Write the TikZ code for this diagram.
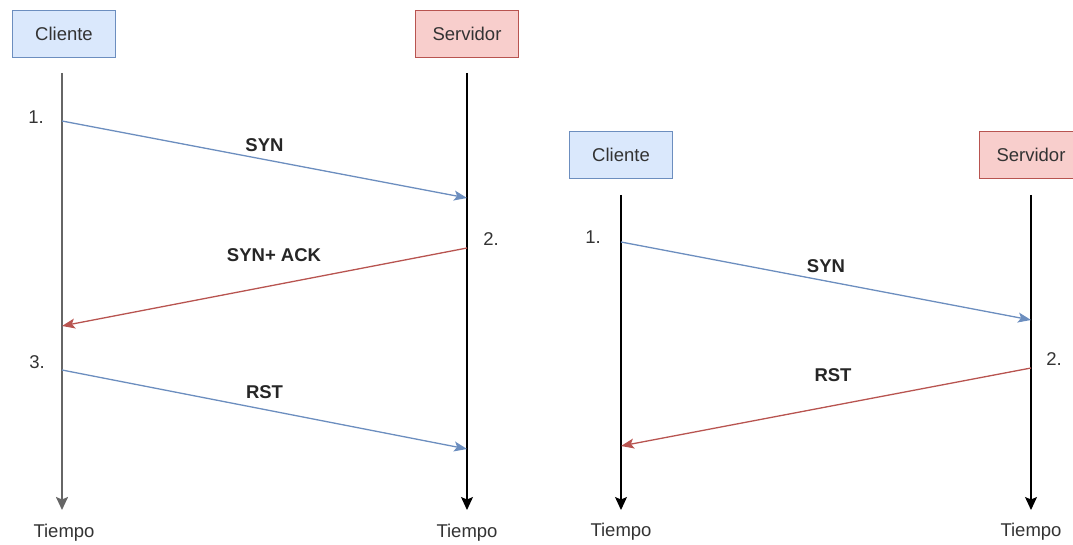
\documentclass[tikz,border=0pt]{standalone}
\usepackage{fontspec}
\setmainfont{Liberation Sans}
\usetikzlibrary{positioning, arrows.meta}
\definecolor{clientFill}{HTML}{DAE8FC}
\definecolor{clientLine}{HTML}{6C8EBF}
\definecolor{serverFill}{HTML}{F8CECC}
\definecolor{serverLine}{HTML}{B85450}
\definecolor{inkGray}{HTML}{333333}

\begin{document}
\begin{tikzpicture}[x=1pt, y=-1pt, font=\fontsize{18.5}{22}\selectfont,
    client/.style={draw=clientLine, fill=clientFill, text=inkGray, thin,
      minimum width=103pt, minimum height=47pt, inner sep=0pt},
    server/.style={draw=serverLine, fill=serverFill, text=inkGray, thin,
      minimum width=103pt, minimum height=47pt, inner sep=0pt},
    lifeline/.style={line width=1.4pt, -{Stealth[length=13pt, width=12pt, inset=2.5pt]}},
    msg/.style={line width=1.3pt, -{Stealth[length=13pt, width=10pt, inset=3pt]}},
    lbl/.style={font=\fontsize{18.5}{22}\selectfont\bfseries, text=black!85, inner sep=0pt},
    num/.style={text=inkGray, inner sep=0pt},
    tiempo/.style={text=inkGray, inner sep=0pt}]
    \useasboundingbox (0,0) rectangle (1073,545);

    % primer diagrama: SYN, SYN+ACK, RST
    \node[client] (cliA) at (64,33.5) {Cliente};
    \node[server] (serA) at (467,33.5) {Servidor};
    \coordinate (cliAtop) at (62,73);
    \coordinate (cliAend) at (62,510);
    \coordinate (serAtop) at (467,73);
    \coordinate (serAend) at (467,510);
    \draw[lifeline, black!60, line width=2pt] (cliAtop) -- (cliAend);
    \draw[lifeline, line width=1.2pt] (serAtop) -- (serAend);
    \node[tiempo] (tA1) at (64,533) {Tiempo};
    \node[tiempo] (tA2) at (467,533) {Tiempo};

    \coordinate (synAa) at (62,121);
    \coordinate (synAb) at (467,198);
    \coordinate (ackAa) at (467,248);
    \coordinate (ackAb) at (62,326);
    \coordinate (rstAa) at (62,370);
    \coordinate (rstAb) at (467,449);
    \draw[msg, clientLine] (synAa) -- node[lbl, yshift=14.5pt] (synAl) {SYN} (synAb);
    \draw[msg, serverLine] (ackAa) -- node[lbl, xshift=9.5pt, yshift=32pt] (ackAl) {SYN+ ACK} (ackAb);
    \draw[msg, clientLine] (rstAa) -- node[lbl, yshift=17.5pt] (rstAl) {RST} (rstAb);
    \node[num] (nA1) at (36,117) {1.};
    \node[num] (nA2) at (491,239) {2.};
    \node[num] (nA3) at (37,362) {3.};

    % segundo diagrama: SYN, RST
    \node[client] (cliB) at (621,155) {Cliente};
    \node[server] (serB) at (1031,155) {Servidor};
    \coordinate (cliBtop) at (621,195);
    \coordinate (cliBend) at (621,510);
    \coordinate (serBtop) at (1031,195);
    \coordinate (serBend) at (1031,510);
    \draw[lifeline, line width=1.3pt] (cliBtop) -- (cliBend);
    \draw[lifeline, line width=1.2pt] (serBtop) -- (serBend);
    \node[tiempo] (tB1) at (621,532) {Tiempo};
    \node[tiempo] (tB2) at (1031,532) {Tiempo};

    \coordinate (synBa) at (621,242);
    \coordinate (synBb) at (1031,320);
    \coordinate (rstBa) at (1031,368);
    \coordinate (rstBb) at (621,446);
    \draw[msg, clientLine] (synBa) -- node[lbl, yshift=15pt] (synBl) {SYN} (synBb);
    \draw[msg, serverLine] (rstBa) -- node[lbl, xshift=7pt, yshift=32pt] (rstBl) {RST} (rstBb);
    \node[num] (nB1) at (593,237) {1.};
    \node[num] (nB2) at (1054,359) {2.};
\end{tikzpicture}
\end{document}
